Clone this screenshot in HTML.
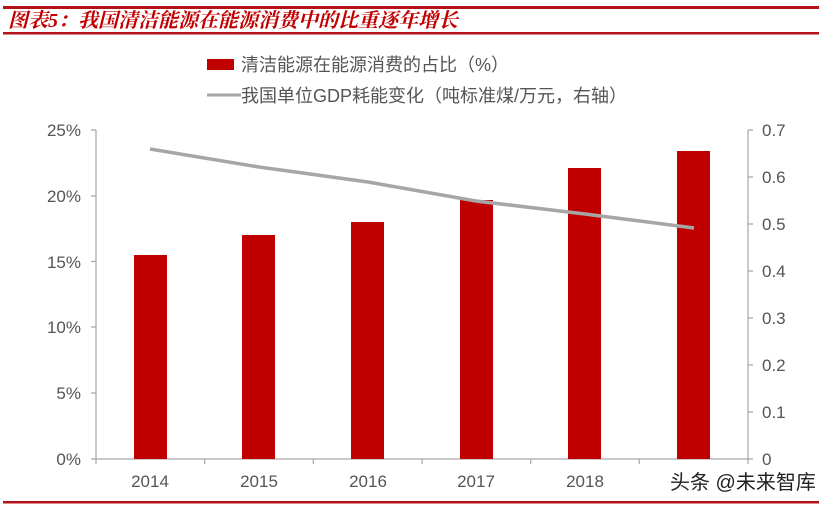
<!DOCTYPE html>
<html><head><meta charset="utf-8"><style>
html,body{margin:0;padding:0;background:#fff;width:840px;height:508px;overflow:hidden}
svg text{font-family:"Liberation Sans","Noto Sans CJK SC",sans-serif}
</style></head><body>
<svg width="840" height="508" xmlns="http://www.w3.org/2000/svg">
<rect x="3" y="6" width="816" height="3" fill="#b5121b"/>
<rect x="3" y="32" width="816" height="2.5" fill="#b5121b"/>
<text x="8" y="27" font-size="20" font-weight="bold" font-style="italic" fill="#c00000" style="font-family:'Liberation Serif','Noto Serif CJK SC',serif">图表5：我国清洁能源在能源消费中的比重逐年增长</text>
<rect x="207" y="59" width="27" height="11" fill="#c00000"/>
<text x="241" y="71" font-size="18" fill="#555">清洁能源在能源消费的占比（%）</text>
<line x1="207" y1="95" x2="241" y2="95" stroke="#a6a6a6" stroke-width="3"/>
<text x="241" y="102" font-size="18" fill="#555">我国单位GDP耗能变化（吨标准煤/万元，右轴）</text>
<g stroke="#a6a6a6" stroke-width="1.2" fill="none">
<line x1="96" y1="130" x2="96" y2="459"/>
<line x1="748" y1="130" x2="748" y2="459"/>
<line x1="96" y1="459" x2="748" y2="459"/>
<path d="M91 130h5M91 196h5M91 261.5h5M91 327h5M91 393h5M91 459h5"/>
<path d="M748 130h5M748 177h5M748 224h5M748 271h5M748 318h5M748 365h5M748 412h5M748 459h5"/>
<path d="M96 459v5M204.7 459v5M313.3 459v5M422 459v5M530.7 459v5M639.3 459v5M748 459v5"/>
</g>
<g font-size="17" fill="#555" text-anchor="end">
<text x="81" y="136">25%</text><text x="81" y="202">20%</text><text x="81" y="268">15%</text>
<text x="81" y="333">10%</text><text x="81" y="399">5%</text><text x="81" y="465">0%</text>
</g>
<g font-size="17" fill="#555">
<text x="762" y="136">0.7</text><text x="762" y="183">0.6</text><text x="762" y="230">0.5</text>
<text x="762" y="277">0.4</text><text x="762" y="324">0.3</text><text x="762" y="371">0.2</text>
<text x="762" y="418">0.1</text><text x="762" y="465">0</text>
</g>
<g font-size="17" fill="#555" text-anchor="middle">
<text x="150" y="487">2014</text><text x="259" y="487">2015</text><text x="368" y="487">2016</text>
<text x="476" y="487">2017</text><text x="585" y="487">2018</text>
</g>
<g fill="#c00000">
<rect x="134" y="255" width="33" height="204"/>
<rect x="242" y="235" width="33" height="224"/>
<rect x="351" y="222" width="33" height="237"/>
<rect x="460" y="200" width="33" height="259"/>
<rect x="568" y="168" width="33" height="291"/>
<rect x="677" y="151" width="33" height="308"/>
</g>
<polyline points="150,149 259,167 368,182 476,201 585,214 694,228" fill="none" stroke="#a6a6a6" stroke-width="3.5"/>
<text x="670" y="489" font-size="20" fill="#222">头条 @未来智库</text>
<rect x="3" y="501" width="816" height="2.5" fill="#b5121b"/>
</svg>
</body></html>
